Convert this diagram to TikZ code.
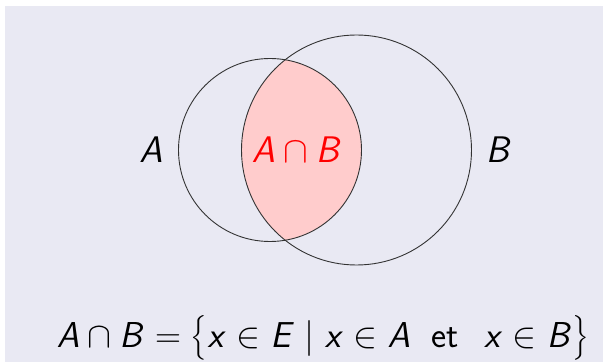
\RequirePackage{fix-cm}
\documentclass[tikz,border=0pt]{standalone}
\usepackage{amsmath}
\DeclareMathAlphabet{\mathsfsl}{OT1}{cmss}{m}{sl}
\newcommand{\sv}[1]{\mathsfsl{#1}}
\definecolor{bgcol}{RGB}{233,233,243}
\definecolor{pinkfill}{RGB}{255,204,204}
\definecolor{labred}{RGB}{255,0,0}
\tikzset{
  setcircle/.style={circle, draw=black!80, line width=0.9pt, inner sep=0pt},
  lbl/.style={font=\fontsize{37}{40}\selectfont, inner sep=0pt},
  formula/.style={font=\fontsize{36}{38}\selectfont, inner sep=0pt, anchor=base}
}
\begin{document}
\begin{tikzpicture}[x=1pt,y=1pt]
\fill[white] (0,0) rectangle (603,362);
\fill[bgcol] (5,0) rectangle (603,356);
\useasboundingbox (0,0) rectangle (603,362);
\coordinate (cAc) at (270,212);
\coordinate (cBc) at (356.5,212);
\begin{scope}
  \clip (cAc) circle (91.5);
  \fill[pinkfill] (cBc) circle (115);
\end{scope}
\node[setcircle, minimum size=183pt] (cA) at (cAc) {};
\node[setcircle, minimum size=230pt] (cB) at (cBc) {};
\node[lbl] (lA) at (151,212) {$\sv{A}$};
\node[lbl] (lB) at (499,212) {$\sv{B}$};
\node[lbl, text=labred] (lAB) at (297,212) {$\sv{A}\cap\sv{B}$};
\node[formula] (f) at (323,15) {$\sv{A}\cap\sv{B}=\bigl\{\sv{x}\in\sv{E}\mid\sv{x}\in\sv{A}\hspace{0.6em}\textsf{et}\hspace{0.7em}\sv{x}\in\sv{B}\bigr\}$};
\end{tikzpicture}
\end{document}
